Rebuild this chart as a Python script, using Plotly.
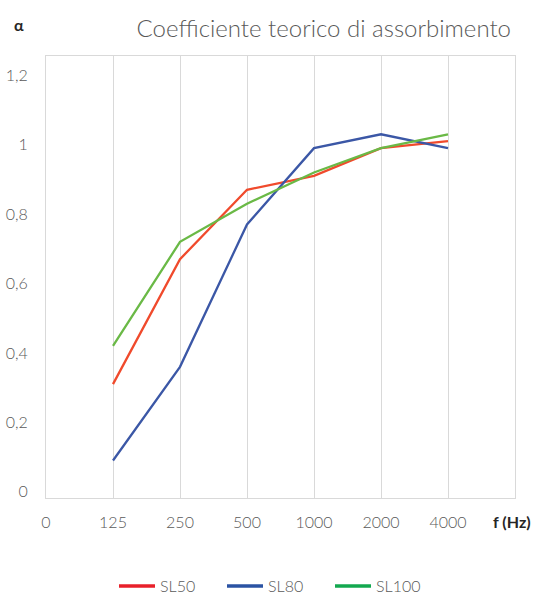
import plotly.graph_objects as go

# category positions and labels
freq_labels = ["0", "125", "250", "500", "1000", "2000", "4000"]
freq_pos = [1, 2, 3, 4, 5, 6]  # positions of 125..4000
y_ticks = [0, 0.2, 0.4, 0.6, 0.8, 1.0, 1.2]
y_ticktext = ["0", "0,2", "0,4", "0,6", "0,8", "1", "1,2"]

sl50 = [0.31, 0.67, 0.87, 0.91, 0.99, 1.01]
sl80 = [0.09, 0.36, 0.77, 0.99, 1.03, 0.99]
sl100 = [0.42, 0.72, 0.83, 0.92, 0.99, 1.03]

series_names = ["SL50", "SL80", "SL100"]
line_colors = ["#f04a2c", "#3b57a6", "#6ab946"]
legend_colors = ["#e8202a", "#2b53a3", "#13a84f"]

W, H = 536, 595
ml, mr, mt, mb = 45.5, 20.6, 55.7, 96.7
PW, PH = W - ml - mr, H - mt - mb

fig = go.Figure()
for name, vals, c in zip(series_names, [sl50, sl80, sl100], line_colors):
    fig.add_trace(go.Scatter(x=freq_pos, y=vals, mode="lines", name=name,
                             line=dict(color=c, width=2.3), showlegend=False,
                             hoverinfo="skip"))
for name, c in zip(series_names, legend_colors):
    fig.add_trace(go.Scatter(x=[None], y=[None], mode="lines", name=name,
                             line=dict(color=c, width=3.5), showlegend=True))

tick_font = dict(family="Lato", size=16, color="#595959", weight=300)

fig.update_layout(
    width=W, height=H,
    margin=dict(l=ml, r=mr, t=mt, b=mb, autoexpand=False),
    paper_bgcolor="white", plot_bgcolor="white",
    font=dict(family="Lato", color="#595959"),
    title=dict(text="Coefficiente teorico di assorbimento",
               font=dict(family="Lato", size=24, color="#595959", weight=300),
               xref="container", x=511 / W, xanchor="right",
               yref="container", y=1 - 29 / H, yanchor="middle",
               automargin=False),
    xaxis=dict(range=[0, 7], tickmode="array", tickvals=list(range(7)),
               ticktext=freq_labels, showgrid=True, gridcolor="#d9d9d9",
               gridwidth=1, showline=True, linecolor="#d9d9d9", linewidth=1,
               mirror=True, zeroline=False, ticks="", tickfont=tick_font,
               ticklabelstandoff=10, automargin=False, fixedrange=True),
    yaxis=dict(range=[-0.018, 1.2555], tickmode="array", tickvals=y_ticks,
               ticktext=y_ticktext, showgrid=False, showline=True,
               linecolor="#d9d9d9", linewidth=1, mirror=True, zeroline=False,
               ticks="", tickfont=tick_font, ticklabelstandoff=14,
               automargin=False, fixedrange=True),
    legend=dict(orientation="h", xref="container", yref="container",
                x=(120 - 6) / W, xanchor="left",
                y=1 - 586 / H, yanchor="middle",
                font=dict(family="Lato", size=16, color="#595959", weight=300),
                itemwidth=36, entrywidth=57, entrywidthmode="pixels",
                bgcolor="rgba(0,0,0,0)"),
    annotations=[
        dict(text="<b>α</b>", xref="paper", yref="paper",
             x=-(ml - 18) / PW, y=1 + (mt - 24) / PH,
             xanchor="center", yanchor="middle", showarrow=False,
             font=dict(family="Lato", size=16, color="#262626")),
        dict(text="<b>f (Hz)</b>", xref="paper", yref="paper",
             x=(512 - ml) / PW, y=-(521.5 - (H - mb)) / PH,
             xanchor="center", yanchor="middle", showarrow=False,
             font=dict(family="Lato", size=16, color="#262626")),
    ],
)

fig.write_html(
    "out.html",
    config={"displayModeBar": False},
    post_script="document.body.style.margin='0';document.body.style.overflow='hidden';",
)
